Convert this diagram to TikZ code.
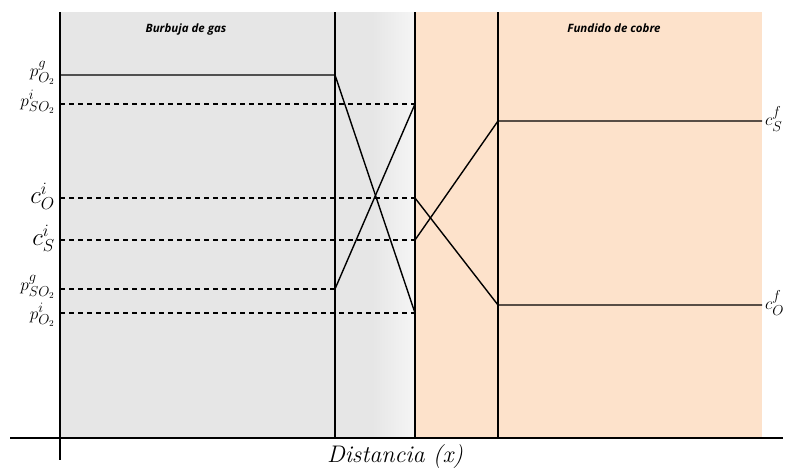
\documentclass[tikz,border=0pt]{standalone}
\usepackage{fontspec}
\newfontfamily\hdrfont{Open Sans}
\usetikzlibrary{calc}
\definecolor{gasgray}{HTML}{E6E6E6}
\definecolor{peach}{HTML}{FDE2CB}
\begin{document}
\begin{tikzpicture}[x=1pt,y=-1pt,
  axis/.style={line width=2.6pt},
  wall/.style={line width=1.4pt},
  prof/.style={line width=1.4pt},
  dashline/.style={line width=1.4pt,dash pattern=on 5pt off 4pt},
  lbl/.style={inner sep=1pt,font=\fontsize{19}{22}\selectfont},
  lblc/.style={inner sep=1pt,font=\fontsize{24}{28}\selectfont},
  hdr/.style={font=\hdrfont\bfseries\itshape\fontsize{11.5}{13}\selectfont}]
\useasboundingbox (0,0) rectangle (787,471);
% backgrounds
\fill[gasgray] (60,12) rectangle (372,438);
\shade[left color=gasgray,right color=gasgray!40!white] (372,12) rectangle (414,438);
\fill[peach] (414,12) rectangle (762,438);
% coordinates
\coordinate (a1) at (335,75);
\coordinate (a2) at (415,313);
\coordinate (b1) at (335,289);
\coordinate (b2) at (415,104);
\coordinate (c1) at (415,198);
\coordinate (c2) at (498,305);
\coordinate (c3) at (762,305);
\coordinate (d1) at (415,240);
\coordinate (d2) at (498,121);
\coordinate (d3) at (762,121);
% walls
\draw[wall] (335,12) -- (335,438);
\draw[wall] (415,12) -- (415,438);
\draw[wall] (498,12) -- (498,438);
% labels left
\node[lbl,anchor=east] (pO2g) at (56,73) {$p_{O_2}^{g}$};
\node[lbl,anchor=east] (pSO2i) at (56,102) {$p_{SO_2}^{i}$};
\node[lblc,anchor=east] (cOi) at (56,196) {$c_{O}^{i}$};
\node[lblc,anchor=east] (cSi) at (56,238) {$c_{S}^{i}$};
\node[lbl,anchor=east] (pSO2g) at (56,287) {$p_{SO_2}^{g}$};
\node[lbl,anchor=east] (pO2i) at (56,315) {$p_{O_2}^{i}$};
% right labels
\node[lbl,anchor=west] (cSf) at (764,119) {$c_{S}^{f}$};
\node[lbl,anchor=west] (cOf) at (764,303) {$c_{O}^{f}$};
% profile lines
\draw[prof] (60,75) -- (a1) -- (a2);
\draw[dashline] (60,104) -- (b2);
\draw[dashline] (60,198) -- (c1);
\draw[dashline] (60,240) -- (d1);
\draw[dashline] (60,289) -- (b1);
\draw[dashline] (60,313) -- (a2);
\draw[prof] (b1) -- (b2);
\draw[prof] (c1) -- (c2) -- (c3);
\draw[prof] (d1) -- (d2) -- (d3);
% axes
\draw[axis] (60,12) -- (60,460);
\draw[axis] (10,438) -- (783,438);
% headers
\node[hdr] (gas) at (186,30) {Burbuja de gas};
\node[hdr] (cobre) at (614,28) {Fundido de cobre};
\node[font=\fontsize{24}{28}\selectfont\itshape] (xlab) at (395,457) {Distancia (x)};
\end{tikzpicture}
\end{document}
